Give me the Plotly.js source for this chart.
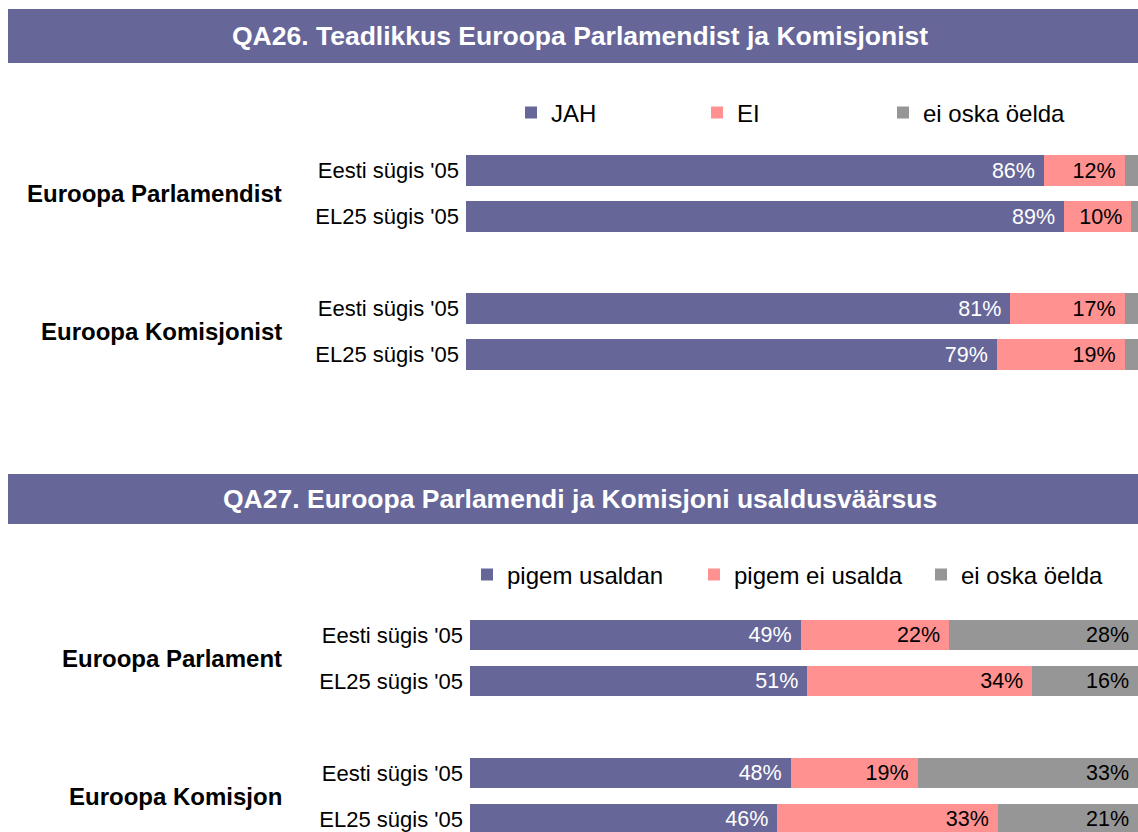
<!DOCTYPE html>
<html><head><meta charset="utf-8">
<script src="https://cdn.plot.ly/plotly-3.0.1.min.js"></script>
<style>html,body{margin:0;padding:0;background:#fff}#chart{width:1138px;height:832px}</style>
</head><body><div id="chart"></div>
<script>
// ---- data ----
const rowLabels = ["Eesti sügis '05", "EL25 sügis '05", "Eesti sügis '05", "EL25 sügis '05"];
const rowPositions = [0, 1, 3, 4];

const qa26Title = "QA26. Teadlikkus Euroopa Parlamendist ja Komisjonist";
const qa26Groups = ["Euroopa Parlamendist", "Euroopa Komisjonist"];
const qa26Series = ["JAH", "EI", "ei oska öelda"];
const qa26Jah = [86, 89, 81, 79];
const qa26Ei = [12, 10, 17, 19];
const qa26EiOska = [2, 1, 2, 2];

const qa27Title = "QA27. Euroopa Parlamendi ja Komisjoni usaldusväärsus";
const qa27Groups = ["Euroopa Parlament", "Euroopa Komisjon"];
const qa27Series = ["pigem usaldan", "pigem ei usalda", "ei oska öelda"];
const qa27Usaldan = [49, 51, 48, 46];
const qa27EiUsalda = [22, 34, 19, 33];
const qa27EiOska = [28, 16, 33, 21];

// ---- styling ----
const W = 1138, H = 832;
const FONT = 'Arial, "Liberation Sans", sans-serif';
const colors = ['#666699', '#FF9191', '#969696'];
const textColors = ['#ffffff', '#000000', '#000000'];
const px = x => x / W;
const py = y => 1 - y / H;
const unit = 46;

function makeTrace(name, vals, i, xa, ya, leg, showText) {
  return {
    type: 'bar', orientation: 'h', name: name,
    x: vals, y: rowPositions, xaxis: xa, yaxis: ya, legend: leg,
    width: 0.67,
    marker: {color: colors[i], line: {width: 0}},
    text: showText ? vals.map(v => v + '%\u00a0') : undefined,
    textposition: showText ? 'inside' : 'none',
    insidetextanchor: 'end',
    textangle: 0,
    constraintext: 'none',
    insidetextfont: {family: FONT, size: 21.5, color: textColors[i]},
    hoverinfo: 'skip'
  };
}

const data = [
  makeTrace(qa26Series[0], qa26Jah, 0, 'x', 'y', 'legend', true),
  makeTrace(qa26Series[1], qa26Ei, 1, 'x', 'y', 'legend', true),
  makeTrace(qa26Series[2], qa26EiOska, 2, 'x', 'y', 'legend', false),
  makeTrace(qa27Series[0], qa27Usaldan, 0, 'x2', 'y2', 'legend2', true),
  makeTrace(qa27Series[1], qa27EiUsalda, 1, 'x2', 'y2', 'legend2', true),
  makeTrace(qa27Series[2], qa27EiOska, 2, 'x2', 'y2', 'legend2', true)
];

// y geometry
const top0 = 170.5, bot0 = 635;
const topY1 = top0 - unit, topY2 = top0 + 5 * unit;
const botY1 = bot0 - unit, botEnd = (H - bot0) / unit;

const yaxisBase = {
  tickvals: rowPositions, ticktext: rowLabels, ticks: '', showgrid: false,
  zeroline: false, showline: false, fixedrange: true, ticklabelstandoff: 6,
  tickfont: {family: FONT, size: 22, color: '#000'}, automargin: false
};
const xaxisBase = {range: [0, 100], visible: false, fixedrange: true, showgrid: false, zeroline: false, automargin: false};

function bar(y0, y1) {
  return {type: 'rect', xref: 'paper', yref: 'paper', x0: px(8), x1: 1, y0: py(y1), y1: py(y0),
    fillcolor: '#666699', line: {width: 0}, layer: 'below'};
}
function titleAnn(text, y) {
  return {text: text, xref: 'paper', yref: 'paper', x: px(580), y: py(y), xanchor: 'center', yanchor: 'middle',
    showarrow: false, font: {family: FONT, size: 26.5, color: '#ffffff', weight: 'bold'}};
}
function groupAnn(text, yref, y) {
  return {text: text, xref: 'paper', yref: yref, x: px(284), y: y, xanchor: 'right', yanchor: 'middle',
    showarrow: false, font: {family: FONT, size: 24, color: '#000', weight: 'bold'}};
}

const layout = {
  width: W, height: H,
  margin: {l: 0, r: 0, t: 0, b: 0, pad: 0, autoexpand: false},
  paper_bgcolor: '#fff', plot_bgcolor: '#fff',
  font: {family: FONT, color: '#000'},
  barmode: 'stack', barnorm: 'percent', bargap: 0,
  hovermode: false,
  xaxis: Object.assign({}, xaxisBase, {domain: [px(466), 1], anchor: 'y'}),
  yaxis: Object.assign({}, yaxisBase, {domain: [py(topY2), py(topY1)], range: [5, -1], anchor: 'x'}),
  xaxis2: Object.assign({}, xaxisBase, {domain: [px(470), 1], anchor: 'y2'}),
  yaxis2: Object.assign({}, yaxisBase, {domain: [0, py(botY1)], range: [botEnd, -1], anchor: 'x2'}),
  legend: {orientation: 'h', x: px(511), y: py(113), xanchor: 'left', yanchor: 'middle',
    font: {family: FONT, size: 24, color: '#000'}, traceorder: 'normal',
    entrywidth: 141, entrywidthmode: 'pixels', bgcolor: 'rgba(0,0,0,0)'},
  legend2: {orientation: 'h', x: px(467), y: py(575), xanchor: 'left', yanchor: 'middle',
    font: {family: FONT, size: 24, color: '#000'}, traceorder: 'normal',
    entrywidth: 182, entrywidthmode: 'pixels', bgcolor: 'rgba(0,0,0,0)'},
  shapes: [bar(9, 63), bar(474, 524)],
  annotations: [
    titleAnn(qa26Title, 36), titleAnn(qa27Title, 499),
    groupAnn(qa26Groups[0], 'y', 0.5), groupAnn(qa26Groups[1], 'y', 3.5),
    groupAnn(qa27Groups[0], 'y2', 0.5), groupAnn(qa27Groups[1], 'y2', 3.5)
  ]
};

Plotly.newPlot('chart', data, layout, {displayModeBar: false, staticPlot: true});
</script>
</body></html>
